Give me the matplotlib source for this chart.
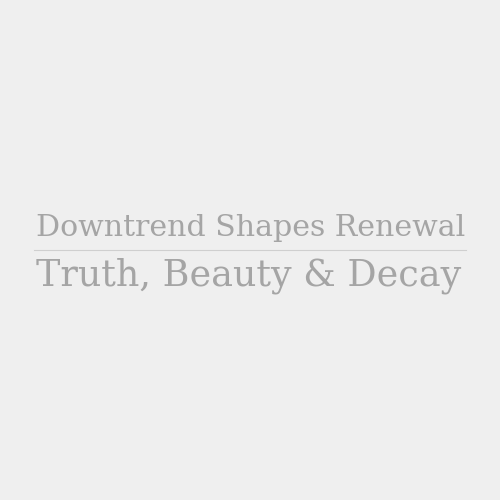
import matplotlib
matplotlib.use("Agg")
import matplotlib.pyplot as plt

# texts
top_text = "Downtrend Shapes Renewal"
bottom_text = "Truth, Beauty & Decay"

bg = "#efefef"
ink = "#a5a5a5"

fig = plt.figure(figsize=(5, 5), dpi=100, facecolor=bg)
ax = fig.add_axes([0, 0, 1, 1])
ax.set_facecolor(bg)
ax.set_xlim(0, 500)
ax.set_ylim(500, 0)
ax.axis("off")

ax.text(36, 236, top_text, ha="left", va="baseline",
        fontsize=21.6, color=ink, family="DejaVu Serif")
ax.plot([34, 466], [250, 250], color="#cfcfcf", lw=0.8)
ax.text(36, 285, bottom_text, ha="left", va="baseline",
        fontsize=26.3, color=ink, family="DejaVu Serif")

fig.savefig("out.png", dpi=100, facecolor=bg)
